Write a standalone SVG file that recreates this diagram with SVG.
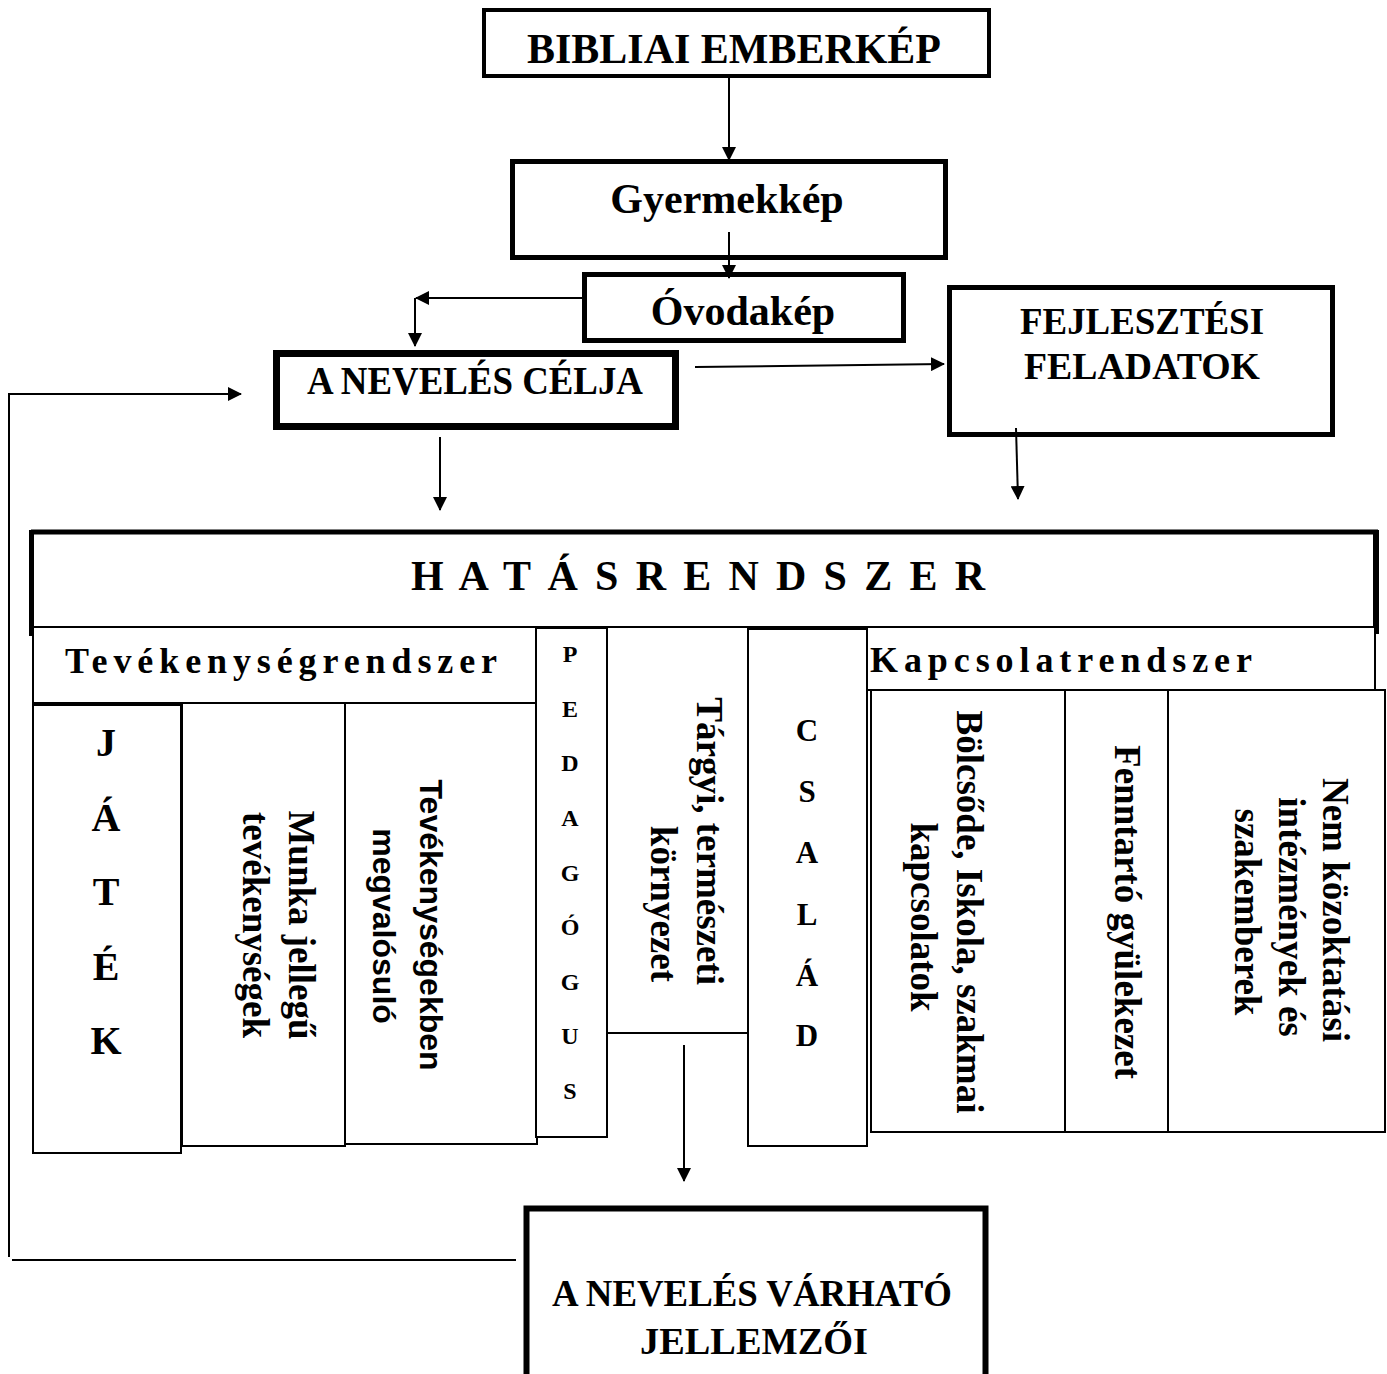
<svg xmlns="http://www.w3.org/2000/svg" width="1387" height="1374" viewBox="0 0 1387 1374">
<style>
.bg{fill:#fff}
.tb{fill:#fff;stroke:#000}
.thin{fill:#fff;stroke:#000;stroke-width:2}
.ln{fill:none;stroke:#000;stroke-width:2}
.f{font-family:"Liberation Serif","Times New Roman",serif;font-weight:bold;fill:#000}
.s{font-family:"Liberation Sans",Arial,sans-serif;font-weight:bold;fill:#000}
.c{text-anchor:middle}
.e{text-anchor:end}
</style>
<defs>
<marker id="ah" markerUnits="userSpaceOnUse" markerWidth="14" markerHeight="14" refX="13" refY="7" orient="auto">
<path d="M0,0 L14,7 L0,14 z" fill="#000"/>
</marker>
</defs>
<rect class="bg" x="0" y="0" width="1387" height="1374"/>

<g id="n-biblia">
<rect class="tb" x="484" y="10" width="505" height="66" stroke-width="4"/>
<text class="f c" x="734" y="63" font-size="42" textLength="414" lengthAdjust="spacingAndGlyphs">BIBLIAI EMBERKÉP</text>
</g>

<g id="n-gyermek">
<rect class="tb" x="512.5" y="161.5" width="433" height="96" stroke-width="5"/>
<text class="f c" x="727" y="213" font-size="42">Gyermekkép</text>
</g>

<g id="n-ovoda">
<rect class="tb" x="584.5" y="274.5" width="319" height="66" stroke-width="5"/>
<text class="f c" x="743" y="325" font-size="42">Óvodakép</text>
</g>

<g id="n-cel">
<rect class="tb" x="276.5" y="353.5" width="399" height="73" stroke-width="7"/>
<text class="f c" x="475" y="394" font-size="40" textLength="336" lengthAdjust="spacingAndGlyphs">A NEVELÉS CÉLJA</text>
</g>

<g id="n-fejl">
<rect class="tb" x="949.5" y="287.5" width="383" height="147" stroke-width="5"/>
<text class="f c" x="1142" y="334" font-size="37" textLength="244" lengthAdjust="spacingAndGlyphs">FEJLESZTÉSI</text>
<text class="f c" x="1142" y="379" font-size="37" textLength="236" lengthAdjust="spacingAndGlyphs">FELADATOK</text>
</g>

<g id="n-hatas">
<line x1="31" y1="532" x2="1378" y2="532" stroke="#000" stroke-width="5"/>
<line x1="31.5" y1="530" x2="31.5" y2="636" stroke="#000" stroke-width="5"/>
<line x1="1376" y1="530" x2="1376" y2="634" stroke="#000" stroke-width="6"/>
<line x1="32" y1="627" x2="1378" y2="627" stroke="#000" stroke-width="2"/>
<text class="f c" x="698" y="590" font-size="42" textLength="574">H A T Á S R E N D S Z E R</text>
</g>

<g id="n-tevrend">
<rect class="thin" x="33" y="627" width="503" height="76"/>
<text class="f" x="65" y="673" font-size="36" textLength="432">Tevékenységrendszer</text>
</g>

<g id="n-jatek">
<rect class="thin" x="33" y="705" width="148" height="448"/>
<text class="f c" x="106" y="756" font-size="40">J</text>
<text class="f c" x="106" y="831" font-size="40">Á</text>
<text class="f c" x="106" y="905" font-size="40">T</text>
<text class="f c" x="106" y="980" font-size="40">É</text>
<text class="f c" x="106" y="1054" font-size="40">K</text>
</g>

<g id="n-munka">
<rect class="thin" x="182" y="703" width="163" height="443"/>
<text class="f c" transform="translate(289,925) rotate(90)" font-size="37">Munka jellegű</text>
<text class="f c" transform="translate(243,925) rotate(90)" font-size="37">tevékenységek</text>
</g>

<g id="n-tevmeg">
<rect class="thin" x="345" y="703" width="192" height="441"/>
<text class="s c" transform="translate(420,925) rotate(90)" font-size="32">Tevékenységekben</text>
<text class="s c" transform="translate(373,926) rotate(90)" font-size="32">megvalósuló</text>
</g>

<g id="n-pedagogus">
<rect class="thin" x="536" y="628" width="71" height="509"/>
<text class="f c" x="570" y="662" font-size="24">P</text>
<text class="f c" x="570" y="717" font-size="24">E</text>
<text class="f c" x="570" y="771" font-size="24">D</text>
<text class="f c" x="570" y="826" font-size="24">A</text>
<text class="f c" x="570" y="881" font-size="24">G</text>
<text class="f c" x="570" y="935" font-size="24">Ó</text>
<text class="f c" x="570" y="990" font-size="24">G</text>
<text class="f c" x="570" y="1044" font-size="24">U</text>
<text class="f c" x="570" y="1099" font-size="24">S</text>
</g>

<g id="n-targyi">
<rect class="thin" x="607" y="627" width="141" height="406"/>
<text class="f e" transform="translate(697,985) rotate(90)" font-size="37">Tárgyi, természeti</text>
<text class="f e" transform="translate(651,982) rotate(90)" font-size="37">környezet</text>
</g>

<g id="n-csalad">
<rect class="thin" x="748" y="629" width="119" height="517"/>
<text class="f c" x="807" y="741" font-size="31">C</text>
<text class="f c" x="807" y="802" font-size="31">S</text>
<text class="f c" x="807" y="863" font-size="31">A</text>
<text class="f c" x="807" y="925" font-size="31">L</text>
<text class="f c" x="807" y="986" font-size="31">Á</text>
<text class="f c" x="807" y="1046" font-size="31">D</text>
</g>

<g id="n-kapcsrend">
<rect class="thin" x="867" y="627" width="508" height="63"/>
<text class="f" x="870" y="672" font-size="36" textLength="382">Kapcsolatrendszer</text>
</g>

<g id="n-bolcsode">
<rect class="thin" x="871" y="690" width="194" height="442"/>
<text class="f c" transform="translate(957,912) rotate(90)" font-size="37">Bölcsőde, Iskola, szakmai</text>
<text class="f c" transform="translate(911,917) rotate(90)" font-size="37">kapcsolatok</text>
</g>

<g id="n-fenntarto">
<rect class="thin" x="1065" y="690" width="103" height="442"/>
<text class="f c" transform="translate(1115,912) rotate(90)" font-size="37">Fenntartó gyülekezet</text>
</g>

<g id="n-nemkoz">
<rect class="thin" x="1168" y="690" width="217" height="442"/>
<text class="f c" transform="translate(1323,910) rotate(90)" font-size="37">Nem közoktatási</text>
<text class="f c" transform="translate(1279,917) rotate(90)" font-size="37">intézmények és</text>
<text class="f c" transform="translate(1235,912) rotate(90)" font-size="37">szakemberek</text>
</g>

<g id="n-varhato">
<rect class="tb" x="526.5" y="1208.5" width="459" height="190" stroke-width="6"/>
<text class="f c" x="752" y="1306" font-size="38" textLength="400" lengthAdjust="spacingAndGlyphs">A NEVELÉS VÁRHATÓ</text>
<text class="f c" x="754" y="1354" font-size="38" textLength="228" lengthAdjust="spacingAndGlyphs">JELLEMZŐI</text>
</g>

<g id="connectors">
<path class="ln" d="M729,78 L729,160" marker-end="url(#ah)"/>
<path class="ln" d="M729,232 L729,278" marker-end="url(#ah)"/>
<path class="ln" d="M583,298 L416,298" marker-end="url(#ah)"/>
<path class="ln" d="M415,298 L415,346" marker-end="url(#ah)"/>
<path class="ln" d="M695,367 L944,364" marker-end="url(#ah)"/>
<path class="ln" d="M440,437 L440,510" marker-end="url(#ah)"/>
<path class="ln" d="M1016,428 L1018,499" marker-end="url(#ah)"/>
<path class="ln" d="M684,1045 L684,1181" marker-end="url(#ah)"/>
<path class="ln" d="M516,1260 L12,1260"/>
<path class="ln" d="M9,1257 L9,394 L241,394" marker-end="url(#ah)"/>
</g>
</svg>
